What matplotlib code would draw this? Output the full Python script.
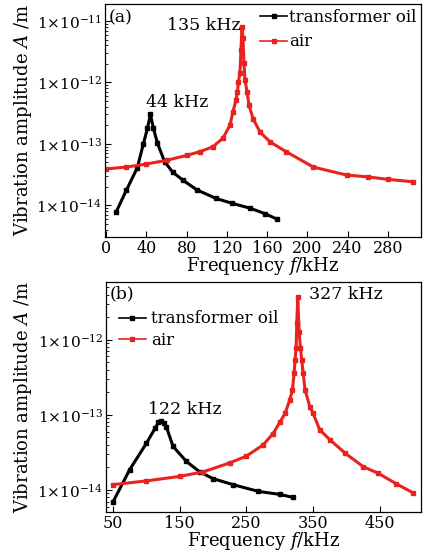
import numpy as np
import matplotlib
matplotlib.use("Agg")
import matplotlib.pyplot as plt
from matplotlib.lines import Line2D
from matplotlib.ticker import FixedLocator, LogLocator, NullFormatter, FuncFormatter

plt.rcParams['font.family'] = 'DejaVu Serif'
plt.rcParams['mathtext.fontset'] = 'dejavuserif'
plt.rcParams['font.size'] = 11.5

# panel (a) (log10 of amplitude in m)
oil_a_f = [10, 20, 31, 37, 41, 44, 47, 51, 58, 66, 76, 90, 109, 125, 143, 158, 170]
oil_a_log = [-14.11, -13.76, -13.39, -13.0, -12.75, -12.52, -12.75, -12.99, -13.29, -13.46,
             -13.59, -13.75, -13.89, -13.97, -14.05, -14.14, -14.23]
air_a_f = [0, 20, 40, 60, 80, 93, 106, 116, 123, 126, 129, 130.5, 131.5, 133, 134, 135,
           136, 137, 138, 140, 142, 146, 153, 163, 179, 206, 239, 260, 280, 305]
air_a_log = [-13.41, -13.38, -13.33, -13.27, -13.19, -13.13, -13.05, -12.91, -12.70, -12.48,
             -12.29, -12.15, -11.99, -11.85, -11.47, -11.09, -11.28, -11.69, -11.96, -12.15,
             -12.37, -12.59, -12.81, -12.97, -13.13, -13.38, -13.51, -13.54, -13.58, -13.62]

# panel (b)
oil_b_f = [50, 75, 100, 113, 118, 122, 126, 130, 140, 160, 180, 200, 230, 268, 300, 320]
oil_b_log = [-14.16, -13.73, -13.38, -13.18, -13.10, -13.08, -13.11, -13.16, -13.42, -13.62,
             -13.76, -13.85, -13.93, -14.02, -14.06, -14.10]
air_b_f = [50, 100, 150, 185, 225, 250, 275, 290, 300, 308, 315, 319, 321.5, 323, 324.5,
           325.5, 327, 329, 331, 333, 335, 338, 345, 350, 360, 375, 398, 425, 448, 475, 500]
air_b_log = [-13.93, -13.88, -13.82, -13.76, -13.64, -13.55, -13.40, -13.25, -13.10, -12.98,
             -12.80, -12.67, -12.44, -12.27, -12.11, -11.78, -11.43, -11.89, -12.11, -12.27,
             -12.44, -12.67, -12.89, -12.98, -13.20, -13.33, -13.51, -13.69, -13.78, -13.92,
             -14.04]

xticks_a = [0, 40, 80, 120, 160, 200, 240, 280]
xticks_b = [50, 150, 250, 350, 450]


def sci(v, pos):
    e = int(round(np.log10(v)))
    return r'$1{\times}10^{%d}$' % e


def style_axes(ax, yticks):
    ax.set_yscale('log')
    ax.yaxis.set_major_locator(FixedLocator(yticks))
    ax.yaxis.set_major_formatter(FuncFormatter(sci))
    ax.yaxis.set_minor_locator(LogLocator(base=10, subs=np.arange(2, 10)))
    ax.yaxis.set_minor_formatter(NullFormatter())
    ax.tick_params(which='major', direction='in', length=4, width=0.8, labelsize=11, pad=2)
    ax.tick_params(axis='x', labelsize=11.5)
    ax.tick_params(which='minor', direction='in', length=2, width=0.6)
    ax.set_xlabel(r'Frequency $f$/kHz', fontsize=13, labelpad=-1)
    ax.set_ylabel(r'Vibration amplitude $A$ /m', fontsize=13, labelpad=2)
    for s in ax.spines.values():
        s.set_linewidth(0.9)


fig = plt.figure(figsize=(4.24, 5.57), dpi=100)
ax1 = fig.add_axes([0.248, 0.5745, 0.745, 0.4185])
ax2 = fig.add_axes([0.25, 0.081, 0.743, 0.413])

kw_oil = dict(color='black', lw=2.2, marker='s', ms=2.2)
kw_air = dict(color='#e8231f', lw=2.2, marker='s', ms=2.2)

ax1.plot(oil_a_f, 10.0 ** np.array(oil_a_log), **kw_oil)
ax1.plot(air_a_f, 10.0 ** np.array(air_a_log), **kw_air)
ax1.set_xlim(-1, 313)
ax1.set_ylim(10 ** -14.52, 10 ** -10.72)
ax1.set_xticks(xticks_a)
style_axes(ax1, [1e-14, 1e-13, 1e-12, 1e-11])
ax1.text(0.01, 0.975, '(a)', transform=ax1.transAxes, va='top', ha='left', fontsize=12.5)
ax1.text(60, 10 ** -11.07, '135 kHz', va='center', ha='left', fontsize=12.5)
ax1.text(40, 10 ** -12.33, '44 kHz', va='center', ha='left', fontsize=12.5)

ax2.plot(oil_b_f, 10.0 ** np.array(oil_b_log), **kw_oil)
ax2.plot(air_b_f, 10.0 ** np.array(air_b_log), **kw_air)
ax2.set_xlim(39.5, 511.8)
ax2.set_ylim(10 ** -14.293, 10 ** -11.227)
ax2.set_xticks(xticks_b)
style_axes(ax2, [1e-14, 1e-13, 1e-12])
ax2.text(0.01, 0.985, '(b)', transform=ax2.transAxes, va='top', ha='left', fontsize=12.5)
ax2.text(102, 10 ** -12.93, '122 kHz', va='center', ha='left', fontsize=12.5)
ax2.text(344, 10 ** -11.40, '327 kHz', va='center', ha='left', fontsize=12.5)

h_oil = Line2D([], [], color='black', lw=1.2, marker='s', ms=2.5)
h_air = Line2D([], [], color='#e8231f', lw=1.2, marker='s', ms=2.5)
ax1.legend([h_oil, h_air], ['transformer oil', 'air'], loc='upper right', frameon=False,
           handlelength=1.6, handletextpad=0.1, borderaxespad=0.0, labelspacing=0.45,
           borderpad=0.3, fontsize=12)
ax2.legend([h_oil, h_air], ['transformer oil', 'air'], loc='upper left', frameon=False,
           handlelength=1.6, handletextpad=0.3, borderaxespad=0.0, labelspacing=0.25,
           bbox_to_anchor=(0.02, 0.905), fontsize=12)

fig.savefig('out.png', dpi=100)
